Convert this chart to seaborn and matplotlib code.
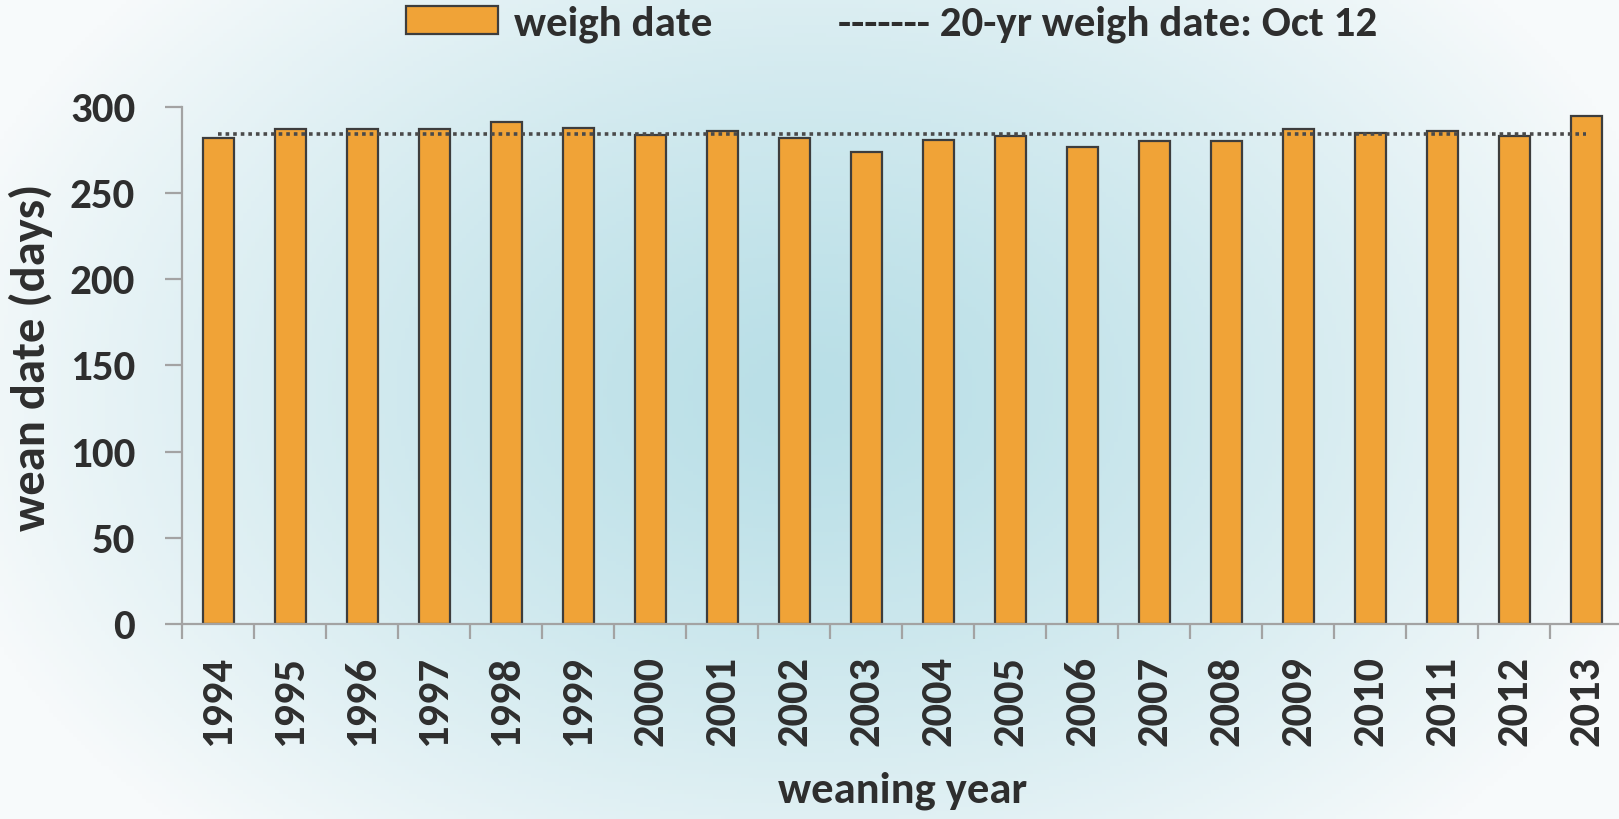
import matplotlib
matplotlib.use("Agg")
import matplotlib.pyplot as plt
import numpy as np
import pandas as pd
import seaborn as sns
from matplotlib import font_manager as fm
from matplotlib.patches import Patch

sns.set_style("white")

# Calibri-like font, whatever is installed first
installed = set(f.name for f in fm.fontManager.ttflist)
font_scale = {'Carlito': 1.0, 'Lato': 0.9, 'Open Sans': 0.86}
main_font = next(f for f in ['Carlito', 'Lato', 'Open Sans'] if f in installed)
k = font_scale[main_font]
plt.rcParams['font.family'] = [main_font, 'DejaVu Sans']

# data
years = ['1994', '1995', '1996', '1997', '1998', '1999', '2000', '2001', '2002', '2003',
         '2004', '2005', '2006', '2007', '2008', '2009', '2010', '2011', '2012', '2013']
weigh_date = [282, 287, 287, 287, 291, 288, 284, 286, 282, 274,
              281, 283, 277, 280, 280, 287, 285, 286, 283, 295]
avg_weigh_date = 284.5
y_ticks = [0, 50, 100, 150, 200, 250, 300]

text_col = '#2e2e2e'
axis_col = '#a3a3a3'
bar_col = '#F0A337'
edge_col = '#3d3d3d'

df = pd.DataFrame({'year': years, 'weigh date': weigh_date})

fig = plt.figure(figsize=(16.19, 8.19), dpi=100)

# soft blue radial background
bg = fig.add_axes([0, 0, 1, 1], zorder=-10)
gx, gy = np.meshgrid(np.linspace(0, 1, 400), np.linspace(0, 1, 200))
r = np.sqrt(((gx - 0.5) / 0.55) ** 2 + ((gy - 0.52) / 0.75) ** 2)
t = np.clip(r, 0, 1) ** 1.3
c_in = np.array([185, 223, 231]) / 255
c_out = np.array([247, 250, 251]) / 255
img = c_in[None, None, :] * (1 - t[..., None]) + c_out[None, None, :] * t[..., None]
bg.imshow(img, aspect='auto', extent=[0, 1, 0, 1], origin='lower')
bg.axis('off')

ax = fig.add_axes([0.1127, 0.2381, 0.8893, 0.6313])
ax.patch.set_alpha(0)

sns.barplot(data=df, x='year', y='weigh date', color=bar_col, width=0.43,
            edgecolor=edge_col, linewidth=1.6, saturation=1, ax=ax, zorder=2)

# 20 yr average line across the bar centres
ax.plot([0, len(years) - 1], [avg_weigh_date, avg_weigh_date], linestyle=(0, (1, 1.1)),
        color='#4a4a4a', linewidth=2.6, zorder=3)

ax.set_xlim(-0.5, len(years) - 0.5)
ax.set_ylim(0, 300)
ax.set_yticks(y_ticks)

for s in ['top', 'right']:
    ax.spines[s].set_visible(False)
for s in ['left', 'bottom']:
    ax.spines[s].set_color(axis_col)
    ax.spines[s].set_linewidth(1.6)

ax.tick_params(axis='y', direction='out', length=12, width=1.6, color=axis_col,
               labelsize=31 * k, labelcolor=text_col, pad=22, left=True)
ax.set_xticks(range(len(years)))
ax.set_xticklabels(years, rotation=90)
ax.tick_params(axis='x', which='major', length=0, labelsize=32 * k, labelcolor=text_col, pad=23)
ax.set_xticks(np.arange(-0.5, len(years), 1), minor=True)
ax.tick_params(axis='x', which='minor', direction='out', length=11, width=1.6,
               color=axis_col, bottom=True)
for lab in ax.get_xticklabels() + ax.get_yticklabels():
    lab.set_fontweight('bold')

ax.set_xlabel('weaning year', fontsize=32 * k, fontweight='bold', color=text_col)
ax.set_ylabel('wean date (days)', fontsize=35 * k, fontweight='bold', color=text_col)
ax.xaxis.set_label_coords(0.5, -0.285)
ax.yaxis.set_label_coords(-0.09, 0.515)

# legend across the top
handle = Patch(facecolor=bar_col, edgecolor=edge_col, linewidth=1.6)
fig.legend([handle], ['weigh date'], loc='center left', bbox_to_anchor=(0.2505, 0.971),
           frameon=False, handlelength=2.15, handleheight=0.62, handletextpad=0.38,
           borderpad=0, borderaxespad=0,
           prop={'size': 31 * k, 'weight': 'bold'}, labelcolor=text_col)
fig.text(0.5176, 0.971, '------- 20-yr weigh date: Oct 12', fontsize=31 * k, fontweight='bold',
         color=text_col, va='center', ha='left')

fig.savefig('out.png', dpi=100)
